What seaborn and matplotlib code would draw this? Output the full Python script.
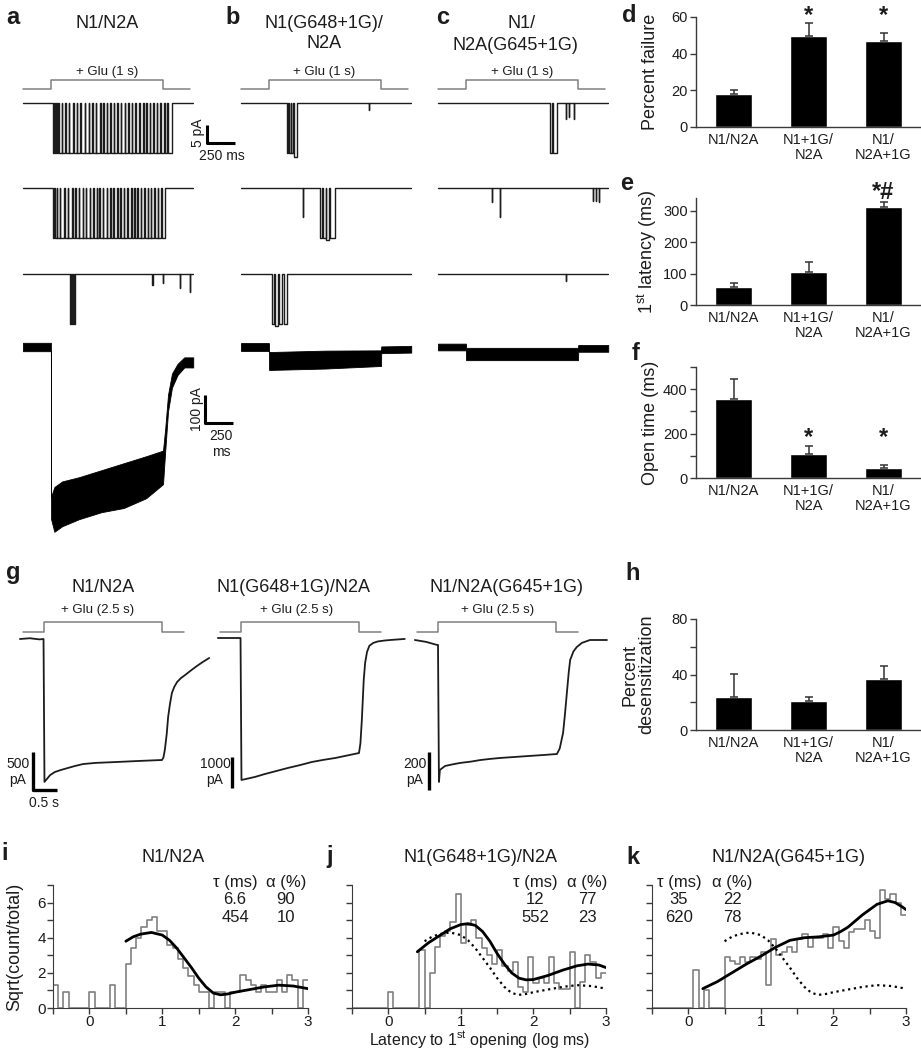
import numpy as np
import pandas as pd
import matplotlib
matplotlib.use("Agg")
import matplotlib.pyplot as plt
import seaborn as sns

sns.set_style("white")
plt.rcParams["font.family"] = ["Liberation Sans", "DejaVu Sans"]
plt.rcParams["mathtext.fontset"] = "custom"
plt.rcParams["mathtext.rm"] = "Liberation Sans"
plt.rcParams["mathtext.it"] = "Liberation Sans:italic"
plt.rcParams["mathtext.bf"] = "Liberation Sans:bold"

W, H = 921, 1050
INK = "#1c1c1c"
GREY = "#808080"
SPINE = "#3a3a3a"

# ---------------- datos de las barras (d, e, f, h) ----------------
groups = ["N1/N2A", "N1+1G/\nN2A", "N1/\nN2A+1G"]
fail_mean = [18, 49.6, 47]
fail_sem = [2.2, 7.0, 4.4]
lat_mean = [57, 105, 312]
lat_sem = [13, 32, 16]
open_mean = [356, 107, 44]
open_sem = [88, 35, 14]
desens_mean = [24, 21, 37]
desens_sem = [16.5, 3, 9]

# ---------------- pulsos de glutamato ----------------
pulse_1s_t = [-250, 0, 0, 1000, 1000, 1245]          # ms
pulse_25s_t = [-0.45, 0, 0, 2.5, 2.5, 2.97]          # s
pulse_level = [0, 0, 1, 1, 0, 0]

# ---------------- canales unitarios (ms, pA) ----------------
amp_open = -14
a1_on, a1_off = 18, 1080
a1_closures = [30, 48, 66, 95, 128, 160, 198, 230, 262, 300, 338, 368, 400, 438, 468,
               500, 530, 562, 590, 625, 658, 690, 722, 752, 790, 822, 850, 880, 912,
               942, 975, 1010, 1040]
a2_on, a2_off = 18, 1018
a2_closures = [30, 52, 78, 118, 150, 188, 215, 250, 282, 312, 345, 378, 408, 432, 462,
               500, 528, 556, 590, 620, 652, 682, 715, 745, 772, 800, 832, 862, 892,
               922, 952, 985]
a3_start = [168, 185, 202, 905, 1000, 1150, 1240]
a3_end = [180, 198, 214, 907, 1002, 1152, 1242]
a3_amp = [-14, -14, -14, -3, -2.5, -4, -5]
b1_start = [160, 178, 200, 220, 890]
b1_end = [172, 195, 212, 250, 892]
b1_amp = [-14, -14, -14, -15, -2]
b2_start = [304, 455, 478, 510, 548]
b2_end = [306, 470, 505, 540, 590]
b2_amp = [-8, -14, -14, -14.5, -14]
b3_start = [27, 55, 90, 130]
b3_end = [45, 80, 120, 160]
b3_amp = [-14, -14.5, -14, -14]
c1_start = [750, 778, 890, 920, 960]
c1_end = [768, 812, 893, 923, 963]
c1_amp = [-14, -14, -4.5, -4, -4.5]
c2_start = [232, 304, 1132, 1160, 1187]
c2_end = [234, 306, 1134, 1162, 1189]
c2_amp = [-4, -8, -3.5, -3.5, -4]
c3_start = [890]
c3_end = [892]
c3_amp = [-2]

# ---------------- corrientes macroscopicas (ms, pA) ----------------
a4_t = [-250, -1, 1, 30, 100, 250, 450, 650, 850, 1000, 1020, 1045, 1080, 1130, 1190, 1270]
a4_mid = [0, 0, -575, -580, -560, -540, -515, -495, -465, -430, -330, -200, -120, -80, -55, -55]
a4_spread = [15, 15, 40, 80, 80, 75, 75, 80, 75, 60, 40, 30, 25, 20, 18, 18]
b4_t = [-250, -1, 1, 500, 990, 1000, 1002, 1270]
b4_mid = [0, 0, -50, -45, -40, -40, -10, -8]
b4_spread = [14, 14, 32, 32, 28, 28, 12, 12]
c4_t = [-250, -1, 1, 1000, 1002, 1270]
c4_mid = [0, 0, -25, -25, -5, -5]
c4_spread = [12, 12, 22, 22, 12, 12]

# ---------------- corrientes de panel g (s, pA) ----------------
g1_t = [-0.51, -0.3, -0.1, -0.01, 0.01, 0.05, 0.13, 0.23, 0.35, 0.49, 0.65, 0.83, 1.1,
        1.55, 2.0, 2.5, 2.53, 2.56, 2.6, 2.63, 2.67, 2.71, 2.76, 2.82, 2.9, 2.99, 3.1,
        3.24, 3.37, 3.5]
g1_i = [0, 10, -5, 0, -1880, -1850, -1790, -1750, -1725, -1700, -1672, -1645, -1630,
        -1618, -1605, -1592, -1560, -1460, -1250, -1026, -850, -710, -630, -566, -515,
        -474, -420, -355, -300, -250]
g2_t = [-0.49, -0.2, -0.01, 0.01, 0.1, 0.3, 0.5, 0.75, 1.0, 1.25, 1.5, 1.75, 2.0, 2.25,
        2.5, 2.53, 2.56, 2.6, 2.63, 2.67, 2.72, 2.8, 2.9, 3.05, 3.2, 3.47]
g2_i = [0, 0, 0, -4580, -4550, -4480, -4390, -4290, -4190, -4100, -4000, -3930, -3870,
        -3790, -3710, -3400, -2650, -1355, -800, -450, -250, -160, -110, -80, -60, -30]
g3_t = [-0.49, -0.25, -0.02, 0.0, 0.02, 0.04, 0.15, 0.3, 0.47, 0.7, 0.89, 1.1, 1.31, 1.6,
        1.95, 2.25, 2.52, 2.58, 2.65, 2.69, 2.73, 2.77, 2.8, 2.87, 2.94, 3.05, 3.22, 3.58]
g3_i = [0, -10, -26, -26, -747, -684, -663, -655, -647, -640, -632, -626, -621, -616,
        -610, -605, -600, -570, -489, -390, -279, -170, -105, -60, -37, -15, 0, 0]

# ---------------- histogramas de latencia (i, j, k) ----------------
bin_edges = np.linspace(-0.5, 3.0, 50)
hist_i = [1.3, 0, 0.9, 0, 0, 0, 0, 0.9, 0, 0, 0, 1.3, 0, 0, 2.5, 3.4, 4.0, 4.6, 5.0, 5.2,
          4.4, 4.4, 3.6, 3.4, 2.8, 2.3, 1.8, 1.3, 0.9, 0.9, 0, 0.9, 0.9, 0, 0.9, 0.9, 1.9,
          1.6, 1.3, 0.9, 1.3, 0.9, 0.9, 1.6, 0.9, 1.9, 1.6, 0, 1.6]
hist_j = [0, 0, 0, 0, 0, 0, 0, 0.9, 0, 0, 0, 0, 0, 3.3, 0, 2.0, 3.5, 4.1, 4.4, 4.9,
          6.5, 3.7, 4.7, 5.0, 4.0, 3.4, 3.0, 2.5, 3.3, 2.4, 2.1, 2.6, 1.2, 0.9, 2.9, 1.4,
          1.7, 1.4, 2.9, 1.4, 1.1, 1.1, 3.2, 0, 1.5, 3.0, 2.6, 1.7, 2.0]
hist_k = [0, 0, 0, 0, 0, 0, 0, 0, 2.15, 0, 1.0, 0, 0, 0, 2.9, 2.7, 2.5, 2.9, 2.6, 2.9,
          2.8, 3.2, 1.3, 3.9, 3.0, 3.2, 3.5, 3.2, 3.9, 4.2, 3.5, 4.0, 4.0, 4.2, 3.4, 4.6,
          3.8, 3.4, 4.3, 4.5, 4.5, 5.0, 4.4, 4.0, 6.7, 6.2, 6.5, 6.0, 5.3]

fit_wt_t = [0.5, 0.6, 0.7, 0.85, 1.0, 1.1, 1.2, 1.3, 1.4, 1.5, 1.6, 1.7, 1.8, 1.9, 2.0,
            2.2, 2.4, 2.6, 2.8, 3.0]
fit_wt_v = [3.8, 4.05, 4.2, 4.3, 4.15, 3.85, 3.4, 2.85, 2.3, 1.7, 1.2, 0.85, 0.75, 0.8,
            0.9, 1.05, 1.2, 1.3, 1.25, 1.1]
fit_j_t = [0.4, 0.55, 0.7, 0.85, 1.0, 1.1, 1.2, 1.3, 1.4, 1.5, 1.6, 1.7, 1.8, 1.9, 2.0,
           2.2, 2.4, 2.6, 2.75, 2.9, 3.0]
fit_j_v = [3.2, 3.7, 4.1, 4.5, 4.75, 4.8, 4.7, 4.35, 3.8, 3.1, 2.5, 2.0, 1.7, 1.6, 1.62,
           1.85, 2.15, 2.4, 2.5, 2.45, 2.3]
fit_k_t = [0.2, 0.4, 0.6, 0.8, 1.0, 1.2, 1.4, 1.6, 1.8, 2.0, 2.1, 2.2, 2.4, 2.6, 2.75,
           2.85, 2.95, 3.0]
fit_k_v = [1.1, 1.5, 2.0, 2.5, 2.95, 3.45, 3.85, 4.0, 4.05, 4.15, 4.35, 4.6, 5.3, 5.9,
           6.1, 6.0, 5.75, 5.6]

tau_i, alpha_i = ["6.6", "454"], ["90", "10"]
tau_j, alpha_j = ["12", "552"], ["77", "23"]
tau_k, alpha_k = ["35", "620"], ["22", "78"]


fig = plt.figure(figsize=(W / 100, H / 100), dpi=100)


def box(x0, y0, x1, y1):
    return fig.add_axes([x0 / W, 1 - y1 / H, (x1 - x0) / W, (y1 - y0) / H])


def label(x, y, s, size=10, ha="center", va="center", **kw):
    fig.text(x / W, 1 - y / H, s, fontsize=size, ha=ha, va=va, color=INK, **kw)


def trace_ax(x_zero, px_t, t0, t1, y_zero, px_u, y_top, y_bot):
    ax = box(x_zero + t0 * px_t, y_top, x_zero + t1 * px_t, y_bot)
    ax.set_xlim(t0, t1)
    ax.set_ylim((y_zero - y_bot) / px_u, (y_zero - y_top) / px_u)
    ax.axis("off")
    return ax


def line(ax, x, y, color=INK, lw=1.0, **kw):
    sns.lineplot(x=x, y=y, sort=False, estimator=None, color=color, lw=lw, ax=ax, **kw)


def channel_xy(t0, t1, starts, ends, amps):
    t, i = [t0], [0.0]
    for s, e, a in zip(starts, ends, amps):
        t += [s, s, e, e]
        i += [0.0, a, a, 0.0]
    t.append(t1)
    i.append(0.0)
    return t, i


def burst(t_on, t_off, closures, shut=4):
    starts = [t_on] + [c + shut for c in closures]
    ends = list(closures) + [t_off]
    return starts, ends, [amp_open] * len(starts)


# ================= filas a, b, c =================
PX_MS = 0.112
PX_PA = 3.6
cols = {"a": 51, "b": 269, "c": 466}
rows_y = [103, 188, 274]
single = {
    "a": [burst(a1_on, a1_off, a1_closures), burst(a2_on, a2_off, a2_closures),
          (a3_start, a3_end, a3_amp)],
    "b": [(b1_start, b1_end, b1_amp), (b2_start, b2_end, b2_amp), (b3_start, b3_end, b3_amp)],
    "c": [(c1_start, c1_end, c1_amp), (c2_start, c2_end, c2_amp), (c3_start, c3_end, c3_amp)],
}
macro = {"a": (a4_t, a4_mid, a4_spread), "b": (b4_t, b4_mid, b4_spread),
         "c": (c4_t, c4_mid, c4_spread)}

for key, xz in cols.items():
    ax = trace_ax(xz, PX_MS, -260, 1280, 89, 9, 74, 94)
    line(ax, pulse_1s_t, pulse_level, color=GREY, lw=1.1)
    for yz, ev in zip(rows_y, single[key]):
        ax = trace_ax(xz, PX_MS, -260, 1280, yz, PX_PA, yz - 20, yz + 70)
        t, i = channel_xy(-250, 1270, *ev)
        line(ax, t, i, color=INK, lw=1.0)
        if key == "a" and yz == rows_y[0]:
            ax.plot([1392, 1392, 1642], [-6.1, -11.1, -11.1], color="black", lw=2.2,
                    clip_on=False, solid_capstyle="butt")
    ax = trace_ax(xz, PX_MS, -260, 1280, 347, 0.28, 320, 545)
    mt, mm, ms = macro[key]
    mm, ms = np.array(mm, float), np.array(ms, float)
    ax.fill_between(mt, mm - ms, mm + ms, color="black", lw=0.6, edgecolor="black")
    if key == "a":
        ax.plot([1375, 1375, 1625], [-171, -271, -271], color="black", lw=2.2,
                clip_on=False, solid_capstyle="butt")

label(13, 17, "a", 17, fontweight="bold")
label(233, 17, "b", 17, fontweight="bold")
label(443, 18, "c", 17, fontweight="bold")
label(107, 23, "N1/N2A", 13)
label(324, 23, "N1(G648+1G)/", 13)
label(324, 44, "N2A", 13)
label(522, 23, "N1/", 13)
label(515, 45, "N2A(G645+1G)", 13)
for xc in [107, 324, 522]:
    label(xc, 72, "+ Glu (1 s)", 9.5)
label(198, 133, "5 pA", 10, rotation=90)
label(222, 156, "250 ms", 10)
label(197, 409, "100 pA", 10, rotation=90)
label(221, 436, "250", 10)
label(221, 452, "ms", 10)


# ================= barras d, e, f, h =================
def bar_panel(y0, y1, means, sems, ymax, major, minor, ylabel, stars=None, star_y=None,
              lab_x=-0.165):
    ax = box(696, y0, 921, y1)
    sns.barplot(x=groups, y=means, color="black", saturation=1, width=0.5,
                errorbar=None, ax=ax)
    ax.errorbar(range(3), means, yerr=[[0, 0, 0], sems], fmt="none", ecolor="#333333",
                elinewidth=1.1, capsize=3, capthick=1.1, zorder=3)
    ax.set_xlim(-0.5, 2.5)
    ax.set_ylim(0, ymax)
    ax.set_xticks([0, 1, 2], groups)
    ax.set_xticks([0.5, 1.5, 2.5], minor=True)
    ax.set_yticks(major)
    if minor:
        ax.set_yticks(minor, minor=True)
    ax.tick_params(axis="x", which="major", length=0, pad=4, labelsize=10.5, colors=INK)
    ax.tick_params(axis="x", which="minor", length=4, width=1, color=SPINE)
    ax.tick_params(axis="y", which="both", length=4, width=1, color=SPINE, pad=2,
                   labelsize=10.5, labelcolor=INK, direction="out", left=True)
    for lab in ax.get_xticklabels():
        lab.set_linespacing(1.15)
    sns.despine(ax=ax)
    for s in ["left", "bottom"]:
        ax.spines[s].set_color(SPINE)
        ax.spines[s].set_linewidth(1.0)
    ax.set_xlabel("")
    ax.set_ylabel(ylabel, fontsize=13, color=INK, linespacing=1.0)
    ax.yaxis.set_label_coords(lab_x, 0.5)
    if stars:
        for k, s in enumerate(stars):
            if s:
                ax.text(k, star_y, s, ha="center", va="center", fontsize=17,
                        fontweight="bold", color=INK, clip_on=False)
    ax.patch.set_alpha(0)
    return ax


bar_panel(17, 127, fail_mean, fail_sem, 60, [0, 20, 40, 60], None, "Percent failure",
          ["", "*", "*"], 61)
bar_panel(198, 305, lat_mean, lat_sem, 340, [0, 100, 200, 300], None,
          r"1$^{\rm st}$ latency (ms)", ["", "", "*#"], 358)
bar_panel(367, 478, open_mean, open_sem, 500, [0, 200, 400], [100, 300, 500],
          "Open time (ms)", ["", "*", "*"], 182)
bar_panel(619, 730, desens_mean, desens_sem, 80, [0, 40, 80], [20, 60],
          "Percent\ndesensitization", lab_x=-0.18)

label(629, 15, "d", 17, fontweight="bold")
label(627, 184, "e", 17, fontweight="bold")
label(636, 353, "f", 17, fontweight="bold")
label(633, 573, "h", 17, fontweight="bold")

# ================= fila g =================
PX_S = 47.2
g_set = [
    (44, 639, 0.076, g1_t, g1_i, -0.23, 500, 790, (18, "500\npA")),
    (241, 638, 0.031, g2_t, g2_i, -0.19, 1000, 788, (215, "1000\npA")),
    (438, 640, 0.19, g3_t, g3_i, -0.19, 200, 790, (415, "200\npA")),
]
for xz, yz, pxu, gt, gi, sb_t, sb_len, sb_bot, (lx, ltxt) in g_set:
    ax = trace_ax(xz, PX_S, -0.6, 3.6, 632, 10, 618, 636)
    line(ax, pulse_25s_t, pulse_level, color=GREY, lw=1.1)
    ax = trace_ax(xz, PX_S, -0.6, 3.6, yz, pxu, 630, 800)
    line(ax, gt, gi, color=INK, lw=1.3)
    bot = (yz - sb_bot) / pxu
    if xz == 44:
        ax.plot([sb_t, sb_t, sb_t + 0.5], [bot + sb_len, bot, bot], color="black", lw=2.4,
                clip_on=False, solid_capstyle="butt")
    else:
        ax.plot([sb_t, sb_t], [bot + sb_len, bot], color="black", lw=2.4,
                clip_on=False, solid_capstyle="butt")
    label(lx, 772, ltxt, 10, linespacing=1.2)

label(13, 573, "g", 17, fontweight="bold")
label(103, 588, "N1/N2A", 13)
label(294, 588, "N1(G648+1G)/N2A", 13)
label(506, 588, "N1/N2A(G645+1G)", 13)
for xc in [98, 297, 498]:
    label(xc, 610, "+ Glu (2.5 s)", 9.5)
label(44, 803, "0.5 s", 10)


# ================= histogramas i, j, k =================
def hist_panel(x0, x1, heights, fit_t, fit_v, ref, show_y):
    ax = box(x0, 885, x1, 1008)
    centers = (bin_edges[:-1] + bin_edges[1:]) / 2
    df = pd.DataFrame({"latency": centers, "height": heights})
    sns.histplot(data=df, x="latency", weights="height", bins=list(bin_edges),
                 element="step", fill=False, color=GREY, lw=1.2, ax=ax)
    if ref:
        line(ax, fit_wt_t, fit_wt_v, color="black", lw=1.6, linestyle=":")
    line(ax, fit_t, fit_v, color="black", lw=2.0)
    ax.set_xlim(-0.5, 3)
    ax.set_ylim(0, 7)
    ax.set_xticks([0, 1, 2, 3])
    ax.set_xticks([-0.5, 0.5, 1.5, 2.5], minor=True)
    if show_y:
        ax.set_yticks([0, 2, 4, 6])
        ax.set_yticks([1, 3, 5, 7], minor=True)
    else:
        ax.set_yticks(range(8), [""] * 8)
    ax.tick_params(which="both", direction="out", length=4, width=1, color=SPINE,
                   labelsize=11, labelcolor=INK, pad=1, left=True, bottom=True)
    sns.despine(ax=ax)
    for s in ["left", "bottom"]:
        ax.spines[s].set_color(SPINE)
    ax.set_xlabel("")
    ax.set_ylabel("")
    ax.patch.set_alpha(0)
    return ax


ax_i = hist_panel(53, 308, hist_i, fit_wt_t, fit_wt_v, False, True)
ax_i.set_ylabel("Sqrt(count/total)", fontsize=13, color=INK)
ax_i.yaxis.set_label_coords(-0.118, 0.5)
hist_panel(352, 606, hist_j, fit_j_t, fit_j_v, True, False)
hist_panel(652, 906, hist_k, fit_k_t, fit_k_v, True, False)

label(5, 853, "i", 17, fontweight="bold")
label(330, 857, "j", 17, fontweight="bold")
label(633, 857, "k", 17, fontweight="bold")
label(173, 857, "N1/N2A", 13)
label(480, 857, "N1(G648+1G)/N2A", 13)
label(788, 857, "N1/N2A(G645+1G)", 13)
for xt, xa, taus, alphas in [(235, 286, tau_i, alpha_i), (535, 587, tau_j, alpha_j),
                              (679, 732, tau_k, alpha_k)]:
    label(xt, 882, "τ (ms)", 12)
    label(xa, 882, "α (%)", 12)
    for r, (tv, av) in enumerate(zip(taus, alphas)):
        label(xt, 900 + 17 * r, tv, 12)
        label(xa, 900 + 17 * r, av, 12)
label(480, 1040, r"Latency to 1$^{\rm st}$ opening (log ms)", 11.5)

fig.savefig("out.png", dpi=100)
